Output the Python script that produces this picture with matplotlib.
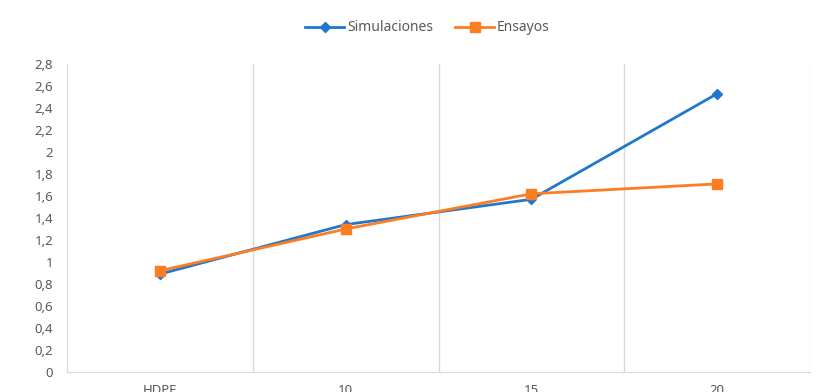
import matplotlib.pyplot as plt
from matplotlib.ticker import FuncFormatter, MultipleLocator

categories = ['HDPE', '10', '15', '20']
simulaciones = [0.89, 1.34, 1.57, 2.53]
ensayos = [0.92, 1.30, 1.62, 1.71]

blue = '#1f77d0'
orange = '#fd7d22'
gray = '#595959'

plt.rcParams['font.family'] = ['Noto Sans', 'DejaVu Sans']

fig = plt.figure(figsize=(8.24, 3.92), dpi=100)
ax = fig.add_axes([67 / 824, 1 - 372 / 392, (810 - 67) / 824, (372 - 64) / 392])

x = list(range(len(categories)))
ax.plot(x, simulaciones, color=blue, lw=2, marker='D', ms=5.5, label='Simulaciones', zorder=3)
ax.plot(x, ensayos, color=orange, lw=2, marker='s', ms=6.5, label='Ensayos', zorder=3)

ax.set_xlim(-0.5, len(categories) - 0.5)
ax.set_ylim(0, 2.8)
ax.yaxis.set_major_locator(MultipleLocator(0.2))
ax.yaxis.set_major_formatter(FuncFormatter(lambda v, p: f'{v:.1f}'.rstrip('0').rstrip('.').replace('.', ',') if v else '0'))

ax.set_xticks(x)
ax.set_xticklabels(categories)
# vertical category separators
for b in [0.5, 1.5, 2.5, 3.5]:
    ax.axvline(b, color='#d9d9d9', lw=1, zorder=1)

for s in ['top', 'right']:
    ax.spines[s].set_visible(False)
ax.spines['left'].set_color('#d9d9d9')
ax.spines['bottom'].set_color('#d9d9d9')
ax.tick_params(axis='both', length=0, colors=gray, labelsize=9.5)
ax.tick_params(axis='x', pad=9)
ax.tick_params(axis='y', pad=10)

ax.legend(loc='center', bbox_to_anchor=(0.485, 1.117), ncol=2, frameon=False,
          fontsize=10, labelcolor=gray, handlelength=2.8, handletextpad=0.2, columnspacing=1.6)

plt.savefig('out.png', dpi=100)
